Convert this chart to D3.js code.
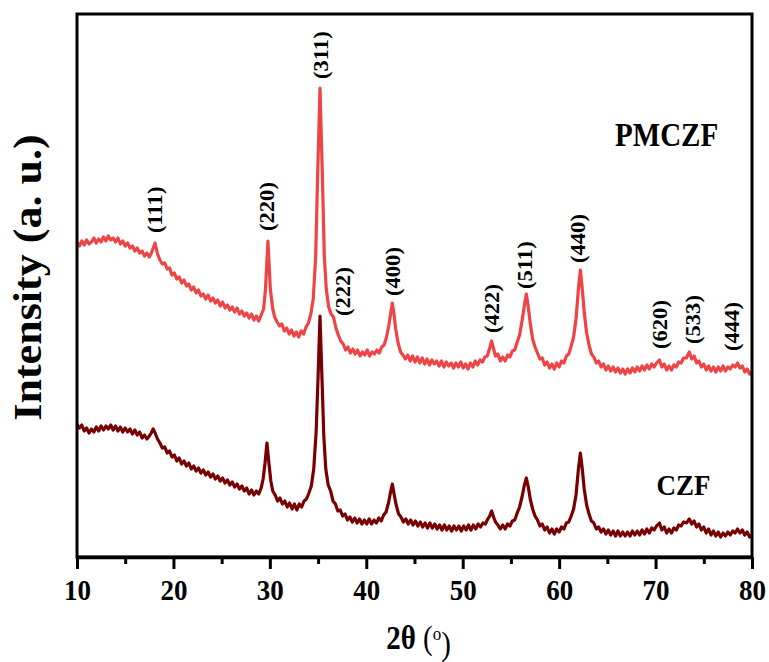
<!DOCTYPE html>
<html>
<head>
<meta charset="utf-8">
<script src="https://cdn.jsdelivr.net/npm/d3@7"></script>
<style>
  html, body { margin: 0; padding: 0; background: #fff; }
  svg { display: block; }
  text { font-family: "Liberation Serif", "Times New Roman", serif; }
</style>
</head>
<body>
<svg id="chart" width="769" height="662"></svg>
<script>
// ---------------- DATA (2θ in degrees, intensity in a.u.) ----------------
const pmczfTheta = [10,10.25,10.5,10.75,11,11.25,11.5,11.75,12,12.25,12.5,12.75,13,13.25,13.5,13.75,14,14.25,14.5,14.75,15,15.25,15.5,15.75,16,16.25,16.5,16.75,17,17.25,17.5,17.75,
  18.1,
  18.35,18.6,18.85,19.1,19.35,19.6,19.85,20.1,20.35,20.6,20.85,21.1,21.35,21.6,21.85,22.1,22.35,22.6,22.85,23.1,23.35,23.6,23.85,24.1,24.35,24.6,24.85,25.1,25.35,25.6,25.85,26.1,26.35,26.6,26.85,27.1,27.35,27.6,27.85,28.1,28.35,28.6,28.85,
  29.1,29.35,29.55,29.8,30.05,30.3,30.5,
  30.75,31,31.25,31.5,31.75,32,32.25,32.5,32.75,33,33.25,33.5,33.75,34,34.25,34.5,34.75,
  34.95,35.2,35.45,35.65,35.85,
  36.1,36.35,36.6,36.85,37.1,37.35,37.6,37.85,38.1,38.35,38.6,38.85,39.1,39.35,39.6,39.85,40.1,40.35,40.6,40.85,41.1,41.35,41.6,41.85,42.1,42.35,
  42.55,42.7,42.85,43.05,
  43.3,43.55,43.8,44.05,44.3,44.55,44.8,45.05,45.3,45.55,45.8,46.05,46.3,46.55,46.8,47.05,47.3,47.55,47.8,48.05,48.3,48.55,48.8,49.05,49.3,49.55,49.8,50.05,50.3,50.55,50.8,51.05,51.3,51.55,51.8,52.05,52.3,52.55,52.8,
  53,53.2,53.4,
  53.65,53.9,54.15,54.4,54.65,54.9,55.15,55.4,55.65,55.9,56.15,56.4,
  56.6,56.8,57,
  57.25,57.5,57.75,58,58.25,58.5,58.75,59,59.25,59.5,59.75,60,60.25,60.5,60.75,61,61.25,61.5,61.75,
  62,62.2,62.4,62.6,
  62.85,63.1,63.35,63.6,63.85,64.1,64.35,64.6,64.85,65.1,65.35,65.6,65.85,66.1,66.35,66.6,66.85,67.1,67.35,67.6,67.85,68.1,68.35,68.6,68.85,69.1,69.35,69.6,69.85,70.1,
  70.4,
  70.65,70.9,71.15,71.4,71.65,71.9,72.15,72.4,72.65,72.9,
  73.2,73.5,
  73.75,74,74.25,74.5,74.75,75,75.25,75.5,75.75,76,76.25,76.5,76.75,77,77.25,77.5,77.75,78,78.25,78.5,78.75,79,79.25,79.5,79.75,80];
const pmczfIntensity = [315,311,316,312,317,313,315,319,314,318,315,320,316,321,317,319,315,319,313,316,311,314,309,311,306,309,304,306,301,304,300,305,
  314,
  303,297,293,294,288,289,282,284,278,280,274,277,271,273,267,270,264,267,261,263,258,262,256,259,254,257,251,255,249,252,247,250,245,249,243,246,241,244,239,243,237,241,236,
  242,248,268,316,268,248,240,
  235,231,233,226,229,223,227,221,225,220,226,223,230,234,243,258,300,
  380,469,380,300,268,
  250,243,240,229,222,216,213,207,210,204,208,203,207,201,205,202,207,201,205,203,207,204,210,212,220,232,
  245,254,245,228,
  214,205,202,198,202,196,201,195,200,194,199,193,198,192,197,193,196,191,196,190,195,191,194,189,194,190,195,189,193,188,194,190,196,192,197,195,200,201,209,
  216,208,201,
  203,196,200,196,202,200,206,207,215,222,236,252,
  263,250,234,
  218,210,204,198,199,192,195,189,193,188,194,190,196,194,201,203,211,220,238,
  268,287,268,245,
  224,212,203,200,194,196,190,193,187,191,186,190,185,189,184,188,183,188,184,189,185,190,186,191,187,192,188,193,190,194,
  197,
  190,193,187,191,187,192,190,195,194,199,
  199,205,
  198,201,194,196,190,193,187,191,186,190,185,190,186,191,186,190,188,192,190,194,189,191,185,188,183,185];

const czfTheta = [10,10.25,10.5,10.75,11,11.25,11.5,11.75,12,12.25,12.5,12.75,13,13.25,13.5,13.75,14,14.25,14.5,14.75,15,15.25,15.5,15.75,16,16.25,16.5,16.75,17,17.25,17.5,
  17.7,17.9,18.1,
  18.35,18.6,18.85,19.1,19.35,19.6,19.85,20.1,20.35,20.6,20.85,21.1,21.35,21.6,21.85,22.1,22.35,22.6,22.85,23.1,23.35,23.6,23.85,24.1,24.35,24.6,24.85,25.1,25.35,25.6,25.85,26.1,26.35,26.6,26.85,27.1,27.35,27.6,27.85,28.1,28.35,28.6,28.85,
  29.1,29.3,29.5,29.7,29.9,30.1,30.3,
  30.55,30.8,31.05,31.3,31.55,31.8,32.05,32.3,32.55,32.8,33.05,33.3,33.55,33.8,34.05,34.3,34.55,
  34.8,35,35.2,35.4,35.6,35.8,
  36.05,36.3,36.55,36.8,37.05,37.3,37.55,37.8,38.05,38.3,38.55,38.8,39.05,39.3,39.55,39.8,40.05,40.3,40.55,40.8,41.05,41.3,41.55,41.8,42.05,42.3,
  42.5,42.7,42.9,43.1,
  43.35,43.6,43.85,44.1,44.35,44.6,44.85,45.1,45.35,45.6,45.85,46.1,46.35,46.6,46.85,47.1,47.35,47.6,47.85,48.1,48.35,48.6,48.85,49.1,49.35,49.6,49.85,50.1,50.35,50.6,50.85,51.1,51.35,51.6,51.85,52.1,52.35,52.6,
  52.8,53,53.2,53.4,
  53.65,53.9,54.15,54.4,54.65,54.9,55.15,55.4,55.65,55.9,56.15,56.4,
  56.6,56.8,57,
  57.25,57.5,57.75,58,58.25,58.5,58.75,59,59.25,59.5,59.75,60,60.25,60.5,60.75,61,61.25,61.5,61.75,
  62,62.2,62.4,62.6,
  62.85,63.1,63.35,63.6,63.85,64.1,64.35,64.6,64.85,65.1,65.35,65.6,65.85,66.1,66.35,66.6,66.85,67.1,67.35,67.6,67.85,68.1,68.35,68.6,68.85,69.1,69.35,69.6,69.85,70.1,
  70.4,
  70.65,70.9,71.15,71.4,71.65,71.9,72.15,72.4,72.65,72.9,
  73.2,73.5,
  73.75,74,74.25,74.5,74.75,75,75.25,75.5,75.75,76,76.25,76.5,76.75,77,77.25,77.5,77.75,78,78.25,78.5,78.75,79,79.25,79.5,79.75,80];
const czfIntensity = [133,129,132,126,129,124,128,125,130,126,131,127,131,128,132,127,131,126,130,125,129,125,128,123,127,122,125,119,122,118,121,
  124,128,124,
  118,114,109,110,104,106,100,102,96,99,93,96,91,94,88,91,86,89,84,87,82,85,80,83,78,81,76,79,74,77,72,75,70,73,68,71,66,69,63,67,62,66,63,
  69,78,94,114,94,76,66,
  62,56,59,53,56,50,54,48,53,47,53,50,56,58,64,71,88,
  125,180,241,180,120,88,
  72,66,56,53,46,47,41,43,37,40,35,39,34,38,33,37,33,38,33,37,34,39,36,42,45,54,
  64,73,62,52,
  43,40,35,38,33,37,32,36,31,35,30,34,29,34,29,33,28,32,27,32,27,31,26,31,27,31,26,31,27,32,27,32,28,33,30,34,33,38,
  41,46,40,35,
  32,28,32,28,33,31,36,37,44,50,60,72,
  79,70,58,
  48,41,37,31,33,27,30,24,28,23,28,25,30,28,34,35,41,48,62,
  88,104,88,68,
  52,43,36,34,28,30,25,28,23,27,22,26,21,26,21,25,21,25,21,26,22,26,22,27,23,28,24,29,27,31,
  34,
  27,30,24,28,24,29,27,32,31,35,
  34,38,
  33,36,30,33,27,30,24,28,22,26,21,25,20,24,21,25,22,26,24,28,24,27,22,25,20,22];

// Miller-index labels: text, 2θ position, bottom of the label (a.u.)
const hklLabels = ["(111)","(220)","(311)","(222)","(400)","(422)","(511)","(440)","(620)","(533)","(444)"];
const hklTheta  = [18.1, 29.8, 35.3, 37.6, 42.8, 53.1, 56.5, 62.0, 70.5, 73.9, 78.0];
const hklBase   = [324, 326, 478, 241, 261, 224, 268, 294, 208, 213, 206];

const seriesNames = ["PMCZF", "CZF"];
const nameTheta = [65.8, 70.1];
const nameLevel = [411, 62];
const xTicks = [10,20,30,40,50,60,70,80];
const xMinorTicks = [15,25,35,45,55,65,75];

// ---------------- LAYOUT ----------------
const svg = d3.select("#chart");
const L = 77, R = 752, T = 14, B = 557;
const SY = 1.13; // vertical stretch of glyphs in the reference

const x = d3.scaleLinear().domain([10, 80]).range([L, R]);
const y = d3.scaleLinear().domain([0, 543]).range([B, T]);

const line = d3.line().x(d => x(d[0])).y(d => y(d[1]));

const series = [
  { name: seriesNames[0], pts: d3.zip(pmczfTheta, pmczfIntensity), color: "#ee4446" },
  { name: seriesNames[1], pts: d3.zip(czfTheta, czfIntensity), color: "#790000" }
];

svg.append("g").selectAll("path")
  .data(series)
  .join("path")
  .attr("d", d => line(d.pts))
  .attr("fill", "none")
  .attr("stroke", d => d.color)
  .attr("stroke-width", 3.2)
  .attr("stroke-linejoin", "round");

// frame
svg.append("rect")
  .attr("x", L).attr("y", T).attr("width", R - L).attr("height", B - T)
  .attr("fill", "none").attr("stroke", "#000").attr("stroke-width", 3);

// x axis major
const gx = svg.append("g").attr("transform", `translate(0,${B})`)
  .call(d3.axisBottom(x).tickValues(xTicks).tickSize(12).tickSizeOuter(0).tickFormat(d3.format("d")));
gx.select(".domain").attr("stroke-width", 3.5);
gx.selectAll(".tick line").attr("stroke-width", 3);
gx.selectAll(".tick text")
  .attr("y", null).attr("dy", null)
  .attr("transform", `translate(0,43) scale(1,${SY})`)
  .attr("fill", "#000")
  .style("font-family", "'Liberation Serif', serif")
  .style("font-size", "27px").style("font-weight", "bold");

// x axis minor
const gxm = svg.append("g").attr("transform", `translate(0,${B})`)
  .call(d3.axisBottom(x).tickValues(xMinorTicks).tickSize(7).tickSizeOuter(0).tickFormat(""));
gxm.select(".domain").remove();
gxm.selectAll(".tick line").attr("stroke-width", 3);

// hkl labels
svg.append("g").selectAll("text")
  .data(d3.zip(hklLabels, hklTheta, hklBase))
  .join("text")
  .attr("transform", d => `translate(${x(d[1])},${y(d[2])}) scale(1,${SY}) rotate(-90)`)
  .attr("dominant-baseline", "central")
  .attr("text-anchor", "start")
  .style("font-size", "20px").style("font-weight", "bold")
  .text(d => d[0]);

// series names
svg.append("g").selectAll("text")
  .data(d3.zip(seriesNames, nameTheta, nameLevel))
  .join("text")
  .attr("transform", d => `translate(${x(d[1])},${y(d[2])}) scale(1,${SY})`)
  .style("font-size", (d, i) => i === 0 ? "29px" : "27px").style("font-weight", "bold")
  .text(d => d[0]);

// axis titles
const xt = svg.append("text")
  .attr("transform", `translate(${(L + R) / 2 + 4},649) scale(1,${SY})`)
  .attr("text-anchor", "middle")
  .style("font-size", "29px");
xt.append("tspan").style("font-weight", "bold").text("2θ");
xt.append("tspan").text(" (");
xt.append("tspan").attr("dy", "-0.45em").style("font-size", "17px").text("o");
xt.append("tspan").attr("dy", "0.45em").text(")");

svg.append("text")
  .attr("transform", `translate(28,${(T + B) / 2 - 8}) scale(1,${SY}) rotate(-90)`)
  .attr("text-anchor", "middle")
  .attr("dominant-baseline", "central")
  .style("font-size", "39px").style("font-weight", "bold")
  .text("Intensity (a. u.)");
</script>
</body>
</html>
